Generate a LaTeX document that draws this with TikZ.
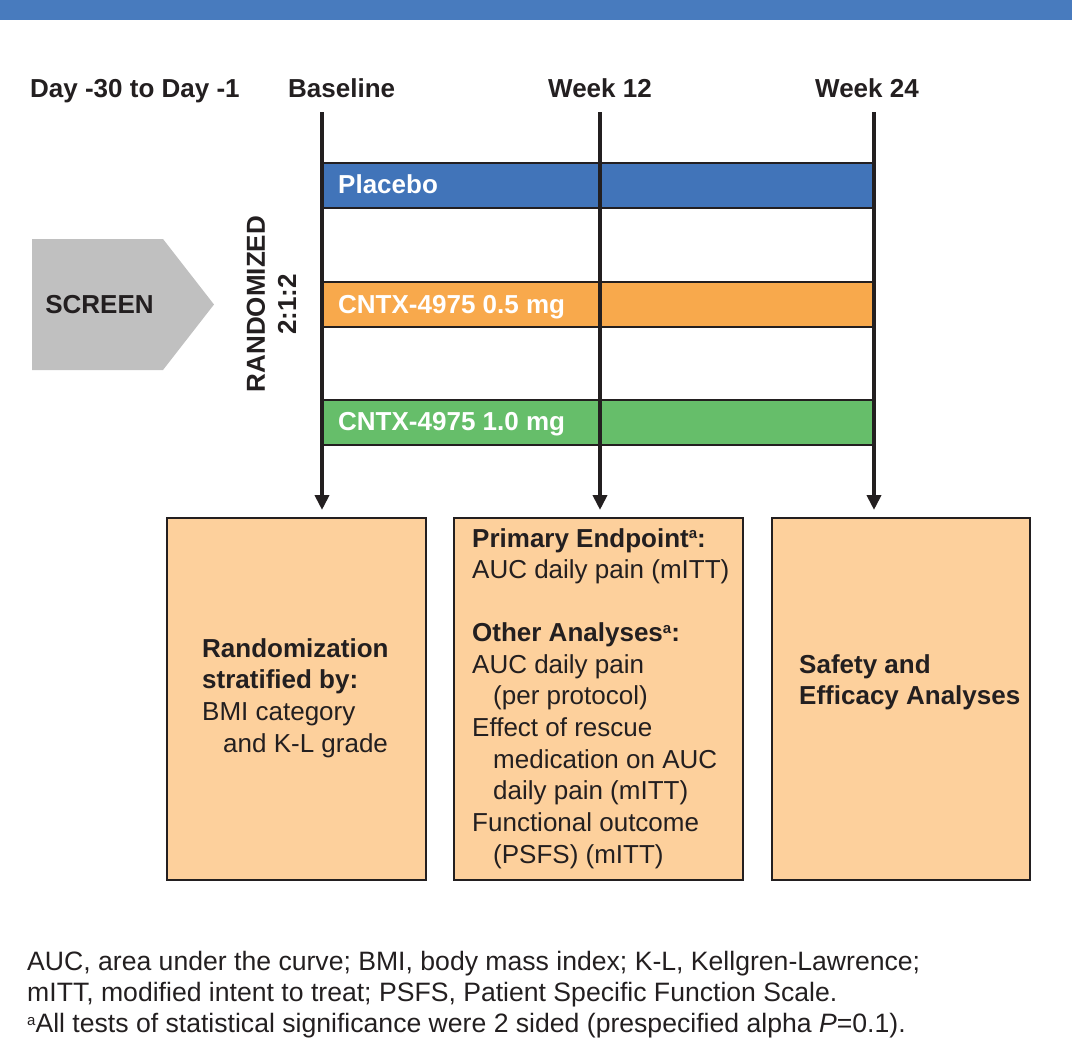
\documentclass[tikz,border=0pt]{standalone}
\usepackage{fontspec}
\setmainfont{Liberation Sans}
\usetikzlibrary{arrows.meta}
\definecolor{band}{RGB}{72,123,190}
\definecolor{placebo}{RGB}{65,116,185}
\definecolor{barorange}{RGB}{248,169,76}
\definecolor{bargreen}{RGB}{102,190,106}
\definecolor{boxfill}{RGB}{253,208,156}
\definecolor{screengray}{RGB}{192,192,192}
\definecolor{dark}{RGB}{35,31,32}
\newcommand{\supa}{\raisebox{0.32em}{\fontsize{15}{15}\selectfont a}}
\begin{document}
\begin{tikzpicture}[x=1pt,y=-1pt,
  every node/.style={text=dark, inner sep=0pt},
  hdr/.style={font=\fontsize{26}{31.7}\selectfont\bfseries, anchor=base west},
  bar/.style={draw=dark, line width=2pt, minimum width=552pt, minimum height=45pt, anchor=west},
  barlbl/.style={font=\fontsize{26}{31.7}\selectfont\bfseries, text=white, anchor=base west},
  vline/.style={draw=dark, line width=4pt, -{Triangle[width=14pt,length=15pt]}},
  outbox/.style={draw=dark, fill=boxfill, line width=2.5pt, minimum height=362pt},
  boxtxt/.style={font=\fontsize{26}{31.7}\selectfont, align=left, anchor=north west},
]
\useasboundingbox (0,0) rectangle (1072,1044);
\fill[band] (0,0) rectangle (1072,20);

% headers
\node[hdr] (hday) at (30,97) {Day -30 to Day -1};
\node[hdr] (hbase) at (288,97) {Baseline};
\node[hdr] (hw12) at (548,97) {Week 12};
\node[hdr] (hw24) at (815,97) {Week 24};

% screen
\fill[screengray] (32,239) -- (163,239) -- (214,304.5) -- (163,370) -- (32,370) -- cycle;
\node[font=\fontsize{26}{31.7}\selectfont\bfseries] (screen) at (99.5,305) {SCREEN};
\node[rotate=90, font=\fontsize{26}{31.7}\selectfont\bfseries] (rand) at (256,304) {RANDOMIZED};
\node[rotate=90, font=\fontsize{26}{31.7}\selectfont\bfseries] (ratio) at (287,304.5) {2:1:2};

% bars
\node[bar, fill=placebo] (pl) at (322,185.5) {};
\node[bar, fill=barorange] (lo) at (322,304.5) {};
\node[bar, fill=bargreen] (hi) at (322,422.5) {};
\node[barlbl] (plt) at (338,193) {Placebo};
\node[barlbl] (lot) at (338,313) {CNTX-4975 0.5 mg};
\node[barlbl] (hit) at (338,430) {CNTX-4975 1.0 mg};

% timeline lines
\coordinate (t0) at (322,112); \coordinate (a0) at (322,510);
\coordinate (t1) at (600,112); \coordinate (a1) at (600,510);
\coordinate (t2) at (874,112); \coordinate (a2) at (874,510);
\draw[vline] (t0) -- (a0);
\draw[vline] (t1) -- (a1);
\draw[vline] (t2) -- (a2);

% boxes
\node[outbox, minimum width=259pt] (b1) at (296.5,699) {};
\node[outbox, minimum width=289pt] (b2) at (598.5,699) {};
\node[outbox, minimum width=258pt] (b3) at (901,699) {};

\node[boxtxt] (b1t) at (202,638) {\textbf{Randomization}\\\textbf{stratified by:}\\BMI category\\\hspace*{21pt}and K-L grade};
\node[boxtxt] (b2t) at (472,528) {\textbf{Primary Endpoint\supa:}\\AUC daily pain (mITT)\\[31pt]\textbf{Other Analyses\supa:}\\AUC daily pain\\\hspace*{21pt}(per protocol)\\Effect of rescue\\\hspace*{21pt}medication on AUC\\\hspace*{21pt}daily pain (mITT)\\Functional outcome\\\hspace*{21pt}(PSFS) (mITT)};
\node[boxtxt, font=\fontsize{26}{31.7}\selectfont\bfseries] (b3t) at (799,654) {Safety and\\Efficacy Analyses};

% footnote
\node[font=\fontsize{26.6}{31}\selectfont, align=left, anchor=north west] (foot) at (27,951.5) {AUC, area under the curve; BMI, body mass index; K-L, Kellgren-Lawrence;\\mITT, modified intent to treat; PSFS, Patient Specific Function Scale.\\\raisebox{0.3em}{\fontsize{15}{15}\selectfont a}All tests of statistical significance were 2 sided (prespecified alpha \textit{P}=0.1).};
\end{tikzpicture}
\end{document}
